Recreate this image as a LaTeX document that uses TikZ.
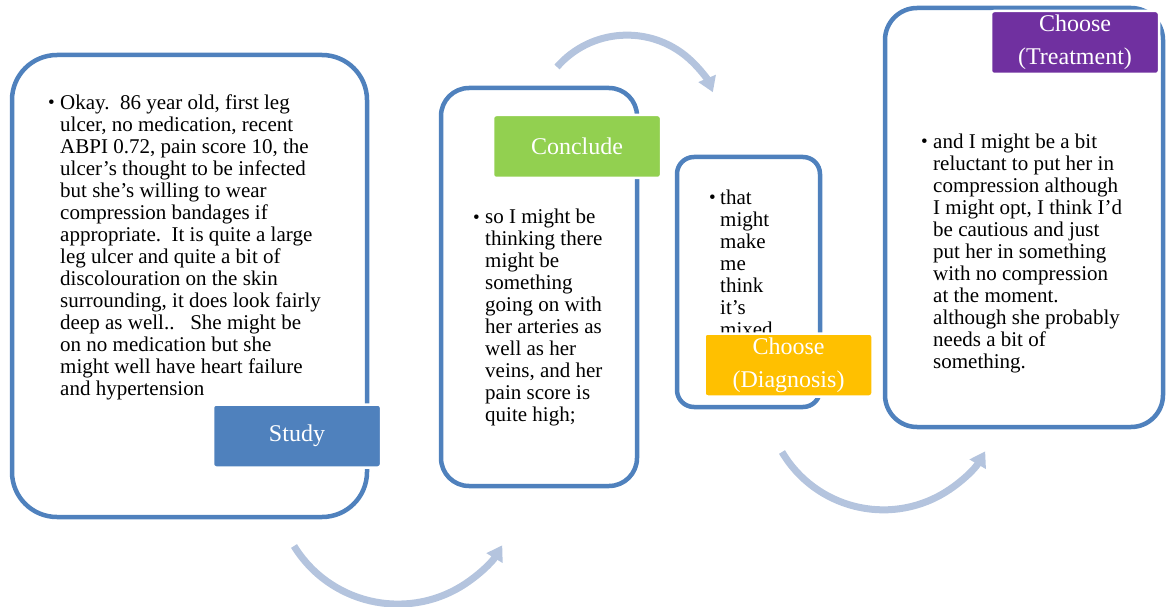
\documentclass[tikz,border=0pt]{standalone}
\usepackage{fontspec}
\setmainfont{Liberation Serif}
\usetikzlibrary{arrows.meta}
\definecolor{frameblue}{HTML}{4F81BD}
\definecolor{studyblue}{HTML}{4F81BD}
\definecolor{concludegreen}{HTML}{92D050}
\definecolor{diaggold}{HTML}{FFC000}
\definecolor{treatpurple}{HTML}{7030A0}
\definecolor{flowgrey}{RGB}{180,196,222}
\frenchspacing
\tikzset{
  frame/.style={draw=frameblue, line width=4.5pt, fill=white, inner sep=0pt},
  tag/.style={fill=#1, draw=white, line width=2.5pt, rounded corners=3pt, text=white,
    font=\fontsize{24}{33}\selectfont, align=center, inner sep=0pt,
    minimum width=168pt, minimum height=63pt},
  % multi-line body text is anchored at the baseline of its last line
  body/.style={anchor=base west, align=left, inner sep=0pt, font=\fontsize{21}{22}\selectfont},
  dot/.style={anchor=base west, inner sep=0pt, font=\fontsize{19}{22}\selectfont},
  flow/.style={draw=flowgrey, line width=7pt, -{Triangle[length=15pt,width=18pt]}},
}
\begin{document}
\begin{tikzpicture}[x=1pt,y=-1pt]
\useasboundingbox (0,0) rectangle (1168,607);

% outer frames
\node[frame, rounded corners=45pt, minimum width=355pt, minimum height=462pt] (f1) at (189.5,286) {};
\node[frame, rounded corners=28pt, minimum width=196pt, minimum height=398pt] (f2) at (539,287) {};
\node[frame, rounded corners=17pt, minimum width=143pt, minimum height=250pt] (f3) at (748.5,282) {};
\node[frame, rounded corners=32pt, minimum width=278pt, minimum height=419pt] (f4) at (1024,217.5) {};

% bulleted texts
\node[dot] (b1) at (48,109) {•};
\node[body] (t1) at (60,395) {Okay.\ \ 86 year old, first leg\\
ulcer, no medication, recent\\
ABPI 0.72, pain score 10, the\\
ulcer’s thought to be infected\\
but she’s willing to wear\\
compression bandages if\\
appropriate.\ \ It is quite a large\\
leg ulcer and quite a bit of\\
discolouration on the skin\\
surrounding, it does look fairly\\
deep as well..\ \ \ She might be\\
on no medication but she\\
might well have heart failure\\
and hypertension};

\node[dot] (b2) at (473,223) {•};
\node[body] (t2) at (485,421) {so I might be\\
thinking there\\
might be\\
something\\
going on with\\
her arteries as\\
well as her\\
veins, and her\\
pain score is\\
quite high;};

\node[dot] (b3) at (709,204) {•};
\node[body] (t3) at (720,336) {that\\
might\\
make\\
me\\
think\\
it’s\\
mixed};

\node[dot] (b4) at (921,148) {•};
\node[body] (t4) at (933,368) {and I might be a bit\\
reluctant to put her in\\
compression although\\
I might opt, I think I’d\\
be cautious and just\\
put her in something\\
with no compression\\
at the moment.\\
although she probably\\
needs a bit of\\
something.};

% step labels
\node[tag=studyblue] (study) at (297,436) {Study};
\node[tag=concludegreen] (conclude) at (577,146.5) {Conclude};
\node[tag=diaggold] (diagnosis) at (788.5,365) {Choose\\(Diagnosis)};
\node[tag=treatpurple] (treatment) at (1075,42.5) {Choose\\(Treatment)};

% curved flow arrows
\coordinate (a1) at (294,546);
\coordinate (a2) at (557,67);
\coordinate (a3) at (782,452);
\draw[flow] (a1) arc[start angle=211.6, end angle=328.8, radius=122pt];
\draw[flow] (a2) arc[start angle=138.9, end angle=22.7, radius=93pt];
\draw[flow] (a3) arc[start angle=210.6, end angle=329.8, radius=117.8pt];
\end{tikzpicture}
\end{document}
